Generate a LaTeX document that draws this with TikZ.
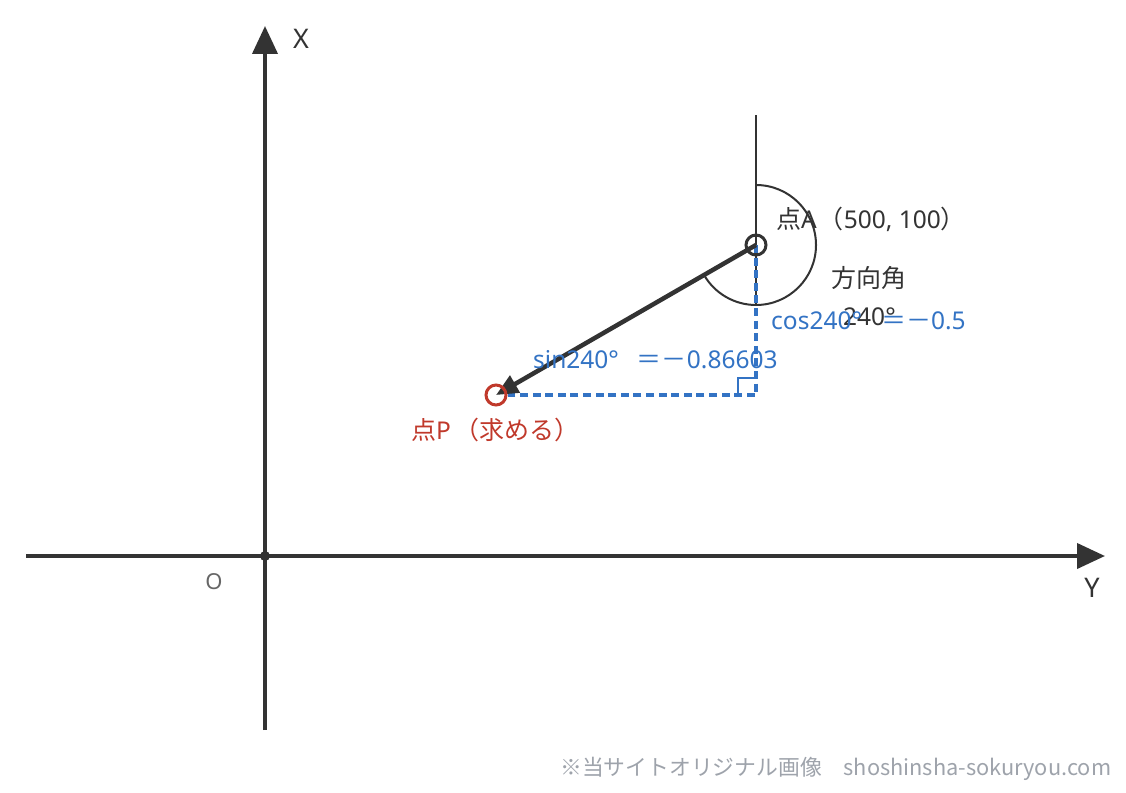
\documentclass[tikz,border=0pt]{standalone}
\usepackage{fontspec}
\setmainfont{Noto Sans}
\newfontfamily\jpfont{Noto Sans CJK JP}
\newcommand\cjkt[1]{{\jpfont\fontsize{25}{28}\selectfont #1}}
\usetikzlibrary{arrows.meta}
\definecolor{dk}{HTML}{333333}
\definecolor{bl}{HTML}{3373C4}
\definecolor{rd}{HTML}{C0392B}
\definecolor{wm}{HTML}{9EA3AB}
\definecolor{og}{HTML}{666666}
\tikzset{
  axis/.style={line width=4pt, draw=dk, -{Triangle[length=28pt,width=25pt]}},
  thinline/.style={line width=2pt, draw=dk},
  bluedash/.style={line width=3.5pt, draw=bl, dash pattern=on 8pt off 4.6pt},
  lbl/.style={anchor=base west, inner sep=0pt, font=\fontsize{24.5}{28}\selectfont, text=dk},
  ptmark/.style={circle, line width=3pt, minimum size=20pt, inner sep=0pt},
}
\begin{document}
\begin{tikzpicture}[x=1pt,y=-1pt]
\useasboundingbox (0,0) rectangle (1126,792);
% axes
\coordinate (xbot) at (265,730);
\coordinate (xtop) at (265,26);
\coordinate (ylft) at (26,556);
\coordinate (yrgt) at (1105,556);
\coordinate (O) at (265,556);
\draw[axis] (xbot) -- (xtop);
\draw[axis] (ylft) -- (yrgt);
\fill[dk] (O) circle (5pt);
\node[font=\fontsize{22}{24}\selectfont, text=og, inner sep=0pt] (olbl) at (214,582) {O};
\node[font=\fontsize{27}{30}\selectfont, text=dk, inner sep=0pt] (xlbl) at (301,39) {X};
\node[font=\fontsize{27}{30}\selectfont, text=dk, inner sep=0pt] (ylbl) at (1092,588) {Y};
% points
\coordinate (N) at (756,115);
\coordinate (S) at (756,305);
\coordinate (C) at (756,395);
\coordinate (R1) at (738,395);
\coordinate (R2) at (738,378);
\coordinate (R3) at (756,378);
\node[ptmark] (A) at (756,245) {};
\node[ptmark] (P) at (496,395) {};
\draw[thinline] (N) -- (S);
\draw[thinline] (756,185) arc[start angle=90, end angle=-150, radius=60pt];
\draw[bl, line width=1.8pt] (R1) -- (R2) -- (R3);
\draw[bluedash] (A.center) -- (C) -- (P.east);
\draw[line width=4.5pt, draw=dk, fill=dk, -{Triangle[length=22pt,width=19pt]}] (A.center) -- (P.center);
\node[ptmark, draw=dk] at (A) {};
\node[ptmark, draw=rd] at (P) {};
% labels
\node[lbl] (alabel) at (776,228.5) {\cjkt{点}A\hspace{2pt}\cjkt{（}500, 100\cjkt{）}};
\node[lbl] (hlabel) at (831,287) {\cjkt{方向角}};
\node[lbl] (dlabel) at (843,325) {240°};
\node[lbl, text=bl] (coslabel) at (771,329.5) {cos240°\hspace{19pt}\cjkt{＝－}0.5};
\node[lbl, text=bl] (sinlabel) at (533,368.5) {sin240°\hspace{18pt}\cjkt{＝－}0.86603};
\node[lbl, text=rd] (plabel) at (411,439.5) {\cjkt{点}P\hspace{3pt}\cjkt{（求める）}};
\node[anchor=west, inner sep=0pt, font=\jpfont\fontsize{21.8}{24}\selectfont, text=wm] (wmark) at (560,769) {※当サイトオリジナル画像　shoshinsha-sokuryou.com};
\end{tikzpicture}
\end{document}
